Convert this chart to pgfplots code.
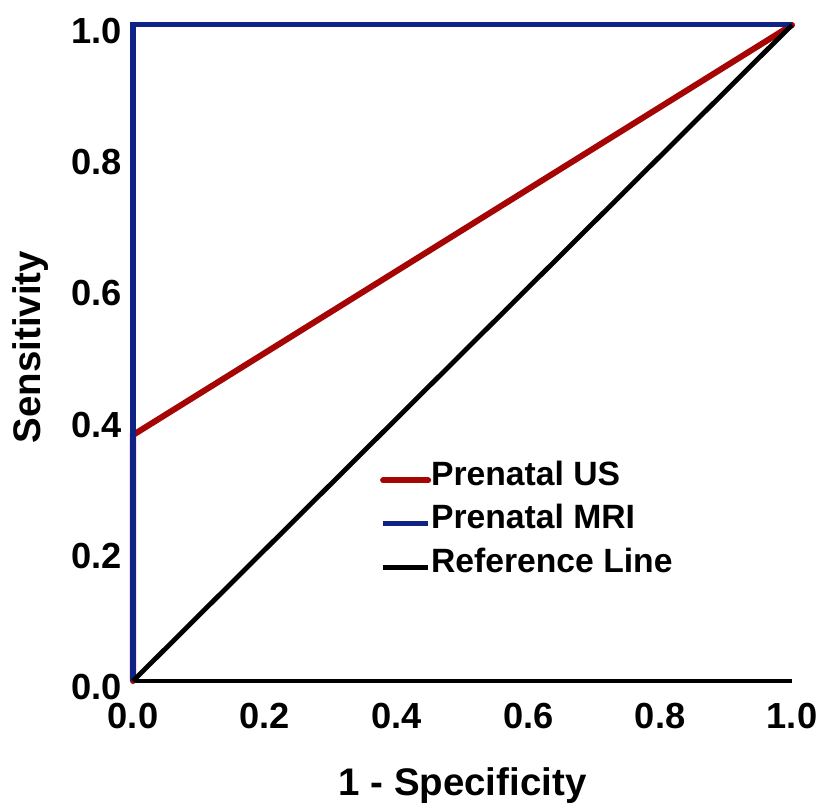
\documentclass[border=0pt]{standalone}
\usepackage{pgfplots}
\pgfplotsset{compat=1.18}
\usepackage{fontspec}
\setmainfont{Liberation Sans}
\definecolor{usred}{RGB}{165,5,5}
\definecolor{mriblue}{RGB}{15,35,135}
\begin{document}
\begin{tikzpicture}
\begin{axis}[
  name=ax,
  scale only axis,
  width=329.5bp, height=328bp,
  xmin=0, xmax=1, ymin=0, ymax=1,
  clip=false,
  axis lines*=left,
  axis line style={black, line width=2.2bp},
  tick style={draw=none},
  xtick={0,0.2,0.4,0.6,0.8,1},
  ytick={0,0.2,0.4,0.6,0.8,1},
  /pgf/number format/assume math mode=true,
  /pgf/number format/.cd, fixed, fixed zerofill, precision=1,
  /pgfplots/.cd,
  ticklabel style={font=\fontsize{18.2}{22}\selectfont\bfseries, inner sep=0pt},
  xticklabel style={anchor=north, yshift=-11bp},
  yticklabel style={anchor=east, xshift=-5.5bp, yshift=-3bp},
  xlabel={1 - Specificity},
  ylabel={Sensitivity},
  label style={font=\fontsize{19.3}{23}\selectfont\bfseries, inner sep=0pt},
  xlabel style={at={(axis description cs:0.5,0)}, anchor=base, yshift=-57bp},
  ylabel style={at={(axis description cs:0,0.5)}, anchor=base, yshift=46.5bp, xshift=3bp},
  legend image code/.code={\draw[#1] (0bp,0bp) -- (22.5bp,0bp);},
  legend style={draw=none, fill=none, inner sep=0pt, outer sep=0pt,
    at={(axis cs:0.375,0.321)}, anchor=north west,
    row sep=11.75bp, column sep=0bp,
    font=\fontsize{16.9}{20}\selectfont\bfseries,
    nodes={inner sep=0pt, text height=0.75em, text depth=0.25em}},
  legend cell align=left,
]
\addplot[usred, line width=3bp, line cap=round] coordinates {(0,0) (0,0.375) (1,1)};
\addlegendentry{Prenatal US}
\addplot[mriblue, line width=2.5bp] coordinates {(0,0) (0,1) (1,1)};
\addlegendentry{Prenatal MRI}
\addplot[black, line width=2.4bp] coordinates {(0,0) (1,1)};
\addlegendentry{Reference Line}
\end{axis}
\pgfresetboundingbox
\path ([shift={(-66.5bp,-62bp)}]ax.south west) rectangle ([shift={(14.5bp,12.5bp)}]ax.north east);
\end{tikzpicture}
\end{document}
